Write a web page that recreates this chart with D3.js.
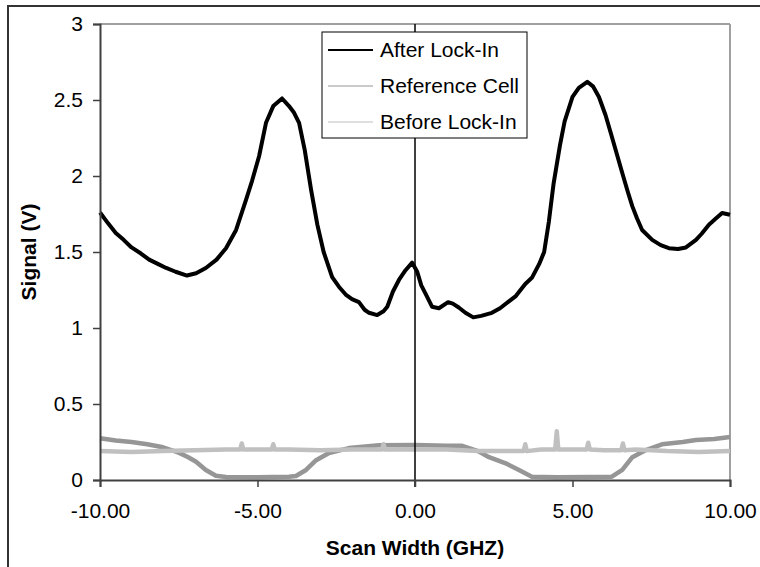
<!DOCTYPE html>
<html>
<head>
<meta charset="utf-8">
<script src="https://cdn.jsdelivr.net/npm/d3@7"></script>
<style>
body { margin: 0; background: #fff; }
svg text { font-family: "Liberation Sans", Arial, sans-serif; }
</style>
</head>
<body>
<svg id="chart" width="760" height="567"></svg>
<script>
// After Lock-In trace
var afterX = [-10,-9.75,-9.5,-9.25,-9,-8.7,-8.44,-8.15,-7.9,-7.6,-7.24,-6.95,-6.64,-6.3,-6,-5.68,-5.37,-5.17,-4.95,-4.73,-4.5,-4.22,-4,-3.85,-3.68,-3.5,-3.3,-3.1,-2.9,-2.63,-2.41,-2.2,-2,-1.78,-1.6,-1.46,-1.2,-1,-0.88,-0.7,-0.51,-0.3,-0.09,0.07,0.2,0.35,0.54,0.76,1.05,1.2,1.39,1.6,1.85,2.1,2.44,2.7,2.98,3.2,3.5,3.71,3.94,4.1,4.25,4.4,4.6,4.75,5,5.2,5.47,5.65,5.84,6.05,6.22,6.4,6.58,6.75,6.9,7.05,7.21,7.53,7.8,8.06,8.35,8.6,8.92,9.1,9.33,9.55,9.75,10];
var afterY = [1.76,1.69,1.625,1.58,1.53,1.49,1.45,1.42,1.395,1.37,1.345,1.36,1.395,1.45,1.525,1.645,1.84,1.97,2.13,2.35,2.46,2.51,2.46,2.42,2.35,2.17,1.91,1.68,1.5,1.335,1.27,1.22,1.19,1.17,1.12,1.1,1.085,1.11,1.14,1.24,1.316,1.38,1.43,1.37,1.28,1.22,1.14,1.13,1.17,1.16,1.135,1.1,1.07,1.08,1.1,1.13,1.175,1.21,1.29,1.33,1.42,1.5,1.7,1.95,2.2,2.36,2.52,2.58,2.62,2.59,2.52,2.4,2.28,2.15,2.02,1.9,1.8,1.72,1.645,1.58,1.545,1.525,1.52,1.53,1.58,1.62,1.68,1.72,1.757,1.745];

// Reference Cell
var refX = [-10,-9.5,-9,-8.5,-8,-7.5,-7.2,-6.95,-6.64,-6.32,-6,-5,-4,-3.78,-3.46,-3.14,-2.73,-2.1,-1.14,0,1,1.5,2,2.35,2.88,3.3,3.71,4.5,5.5,6.25,6.58,6.9,7.33,7.84,8.5,8.92,9.5,10];
var refY = [0.275,0.26,0.25,0.235,0.215,0.18,0.15,0.12,0.066,0.028,0.02,0.018,0.022,0.026,0.066,0.13,0.178,0.21,0.228,0.23,0.225,0.225,0.19,0.15,0.11,0.066,0.022,0.018,0.02,0.022,0.066,0.15,0.197,0.235,0.25,0.263,0.27,0.283];

// Before Lock-In (with the visible spikes)
var beforeX = [-10,-9,-8,-7,-6,-5.55,-5.5,-5.45,-5,-4.55,-4.5,-4.45,-4,-3,-2,-1.05,-1,-0.95,0,1,2,3,3.45,3.5,3.55,4,4.45,4.5,4.55,5,5.45,5.5,5.55,6,6.55,6.6,6.65,7,8,9,10];
var beforeY = [0.19,0.185,0.19,0.195,0.2,0.2,0.24,0.2,0.2,0.2,0.235,0.2,0.2,0.195,0.2,0.2,0.235,0.2,0.2,0.2,0.19,0.19,0.19,0.235,0.19,0.2,0.2,0.32,0.2,0.2,0.2,0.245,0.2,0.195,0.195,0.24,0.195,0.2,0.19,0.185,0.19];

var xTicks = [-10,-5,0,5,10];
var yTicks = [0,0.5,1,1.5,2,2.5,3];
var seriesNames = ["After Lock-In","Reference Cell","Before Lock-In"];
var seriesColors = ["#000000","#969696","#c0c0c0"];

var svg = d3.select("#chart");
var pLeft = 100, pRight = 730, pTop = 24, pBottom = 480;

var x = d3.scaleLinear().domain([-10,10]).range([pLeft,pRight]);
var y = d3.scaleLinear().domain([0,3]).range([pBottom,pTop]);

// outer figure border
svg.append("rect")
  .attr("x",8).attr("y",6)
  .attr("width",800).attr("height",600)
  .attr("fill","none").attr("stroke","#333").attr("stroke-width",2);

// plot frame top / right
svg.append("line").attr("x1",pLeft).attr("x2",pRight).attr("y1",pTop).attr("y2",pTop)
  .attr("stroke","#a0a0a0").attr("stroke-width",2);
svg.append("line").attr("x1",pRight).attr("x2",pRight).attr("y1",pTop).attr("y2",pBottom)
  .attr("stroke","#a0a0a0").attr("stroke-width",2);

function toPts(xs, ys){
  return xs.map(function(d,i){ return [d, ys[i]]; });
}
var line = d3.line()
  .x(function(d){ return x(d[0]); })
  .y(function(d){ return y(d[1]); });

var series = [toPts(afterX,afterY), toPts(refX,refY), toPts(beforeX,beforeY)];
var widths = [4, 4.5, 4.5];

svg.selectAll("path.series")
  .data(series).enter()
  .append("path")
  .attr("class","series")
  .attr("d", line)
  .attr("fill","none")
  .attr("stroke", function(d,i){ return seriesColors[i]; })
  .attr("stroke-width", function(d,i){ return widths[i]; })
  .attr("stroke-linejoin","round");

// vertical line at 0
svg.append("line")
  .attr("x1",x(0)).attr("x2",x(0)).attr("y1",pTop).attr("y2",pBottom+7)
  .attr("stroke","#000").attr("stroke-width",1.5);

function hyphen(f){
  return function(d){ return f(d).replace("\u2212","-"); };
}

// axes
var yAxis = svg.append("g")
  .attr("transform","translate("+pLeft+",0)")
  .call(d3.axisLeft(y).tickValues(yTicks).tickSize(7).tickPadding(10)
    .tickFormat(hyphen(d3.format(""))));
var xAxis = svg.append("g")
  .attr("transform","translate(0,"+pBottom+")")
  .call(d3.axisBottom(x).tickValues(xTicks).tickSize(7).tickPadding(16)
    .tickFormat(hyphen(d3.format(".2f"))));

[yAxis,xAxis].forEach(function(g){
  g.select(".domain").attr("stroke","#404040").attr("stroke-width",2);
  g.selectAll(".tick line").attr("stroke","#404040").attr("stroke-width",1.5);
  g.selectAll(".tick text").attr("fill","#000")
    .style("font-size","21px").style("font-family","'Liberation Sans', Arial, sans-serif");
});

// axis titles
svg.append("text")
  .attr("x",(pLeft+pRight)/2).attr("y",555)
  .attr("text-anchor","middle")
  .style("font-size","21px").style("font-weight","bold")
  .text("Scan Width (GHZ)");
svg.append("text")
  .attr("transform","translate(36,"+((pTop+pBottom)/2)+") rotate(-90)")
  .attr("text-anchor","middle")
  .style("font-size","21px").style("font-weight","bold")
  .text("Signal (V)");

// legend
var lg = svg.append("g");
lg.append("rect")
  .attr("x",322).attr("y",32).attr("width",205).attr("height",106)
  .attr("fill","#fff").attr("stroke","#000").attr("stroke-width",1);
var legW = [2, 1.2, 1.2];
var item = lg.selectAll("g.item").data(seriesNames).enter()
  .append("g").attr("class","item")
  .attr("transform", function(d,i){ return "translate(0,"+(50+i*36)+")"; });
item.append("line")
  .attr("x1",328).attr("x2",373)
  .attr("stroke", function(d,i){ return seriesColors[i]; })
  .attr("stroke-width", function(d,i){ return legW[i]; });
item.append("text")
  .attr("x",380).attr("dy","0.35em")
  .style("font-size","21px")
  .text(function(d){ return d; });
</script>
</body>
</html>
